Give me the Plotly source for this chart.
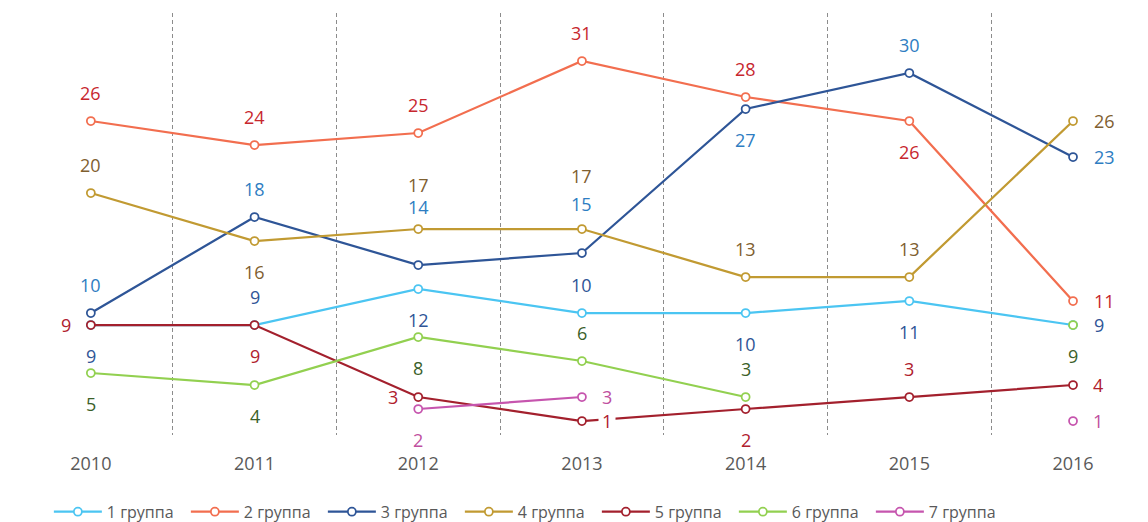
import plotly.graph_objects as go

years = ["2010", "2011", "2012", "2013", "2014", "2015", "2016"]

g1 = [9, 9, 12, 10, 10, 11, 9]
g2 = [26, 24, 25, 31, 28, 26, 11]
g3 = [10, 18, 14, 15, 27, 30, 23]
g4 = [20, 16, 17, 17, 13, 13, 26]
g5 = [9, 9, 3, 1, 2, 3, 4]
g6 = [5, 4, 8, 6, 3, None, 9]
g7 = [None, None, 2, 3, None, None, 1]

names = ["1 группа", "2 группа", "3 группа", "4 группа", "5 группа", "6 группа", "7 группа"]
series = [g1, g2, g3, g4, g5, g6, g7]

line_colors = ["#4BC5F2", "#F26E4F", "#2E5597", "#C19A32", "#A3202D", "#92D050", "#C655AE"]
label_colors = ["#2F5597", "#C7272E", "#2E7DC2", "#7F6030", "#B0202E", "#3B5F2A", "#C04FA0"]

# label offsets in px (dx, dy), dy positive = down
A, B, L, R = (0, -28), (0, 31), (-25, 0), (31, 0)
label_pos = [
    [B, A, B, A, B, B, (26, 0)],
    [A, A, A, A, A, B, R],
    [A, A, (0, -58), (0, -49), B, A, R],
    [A, B, (0, -44), (0, -53), A, A, R],
    [L, B, L, (25, 0), B, A, (25, 0)],
    [B, B, B, A, A, None, B],
    [None, None, B, (25, 0), None, None, (25, 0)],
]
# labels that sit on a line and get a white box (series, point)
boxed = {(4, 3)}

FONT = "Open Sans"

fig = go.Figure()
for name, vals, lc in zip(names, series, line_colors):
    fig.add_trace(go.Scatter(
        x=years, y=vals, name=name, mode="lines+markers",
        line=dict(color=lc, width=2.25),
        marker=dict(symbol="circle", size=8, color="white", line=dict(color=lc, width=1.75)),
        connectgaps=False,
    ))

for s, (vals, pos, tc) in enumerate(zip(series, label_pos, label_colors)):
    for i, (v, p) in enumerate(zip(vals, pos)):
        if v is None or p is None:
            continue
        # category index, since "2010" would be read as index 2010
        fig.add_annotation(
            x=i, y=v, xref="x", yref="y", text=str(v), showarrow=False,
            xshift=p[0], yshift=-p[1],
            bgcolor="white" if (s, i) in boxed else "rgba(0,0,0,0)", borderpad=3,
            font=dict(family=FONT, size=18, color=tc),
        )

# page body has an 8px margin, so the figure is 8px smaller each way
fig.update_layout(
    width=1140, height=514,
    margin=dict(l=1, r=0, t=5, b=87, autoexpand=False),
    paper_bgcolor="white", plot_bgcolor="white",
    font=dict(family=FONT, size=16, color="#595959"),
    showlegend=True,
    legend=dict(
        orientation="h", x=0.035, xanchor="left", y=-0.182, yanchor="middle",
        entrywidth=74, font=dict(family=FONT, size=16, color="#595959"),
        itemwidth=48,
    ),
    xaxis=dict(
        type="category", range=[-0.5, 6.458],
        showgrid=True, tickson="boundaries", griddash="4px,3px",
        gridcolor="#8C8C8C", gridwidth=1,
        showline=False, zeroline=False, ticks="",
        ticklabelstandoff=16,
        tickfont=dict(family=FONT, size=18, color="#595959"),
    ),
    yaxis=dict(
        range=[-0.167, 35], showticklabels=False, showgrid=False,
        zeroline=False, showline=False, ticks="",
    ),
)

fig.write_html("out.html")
